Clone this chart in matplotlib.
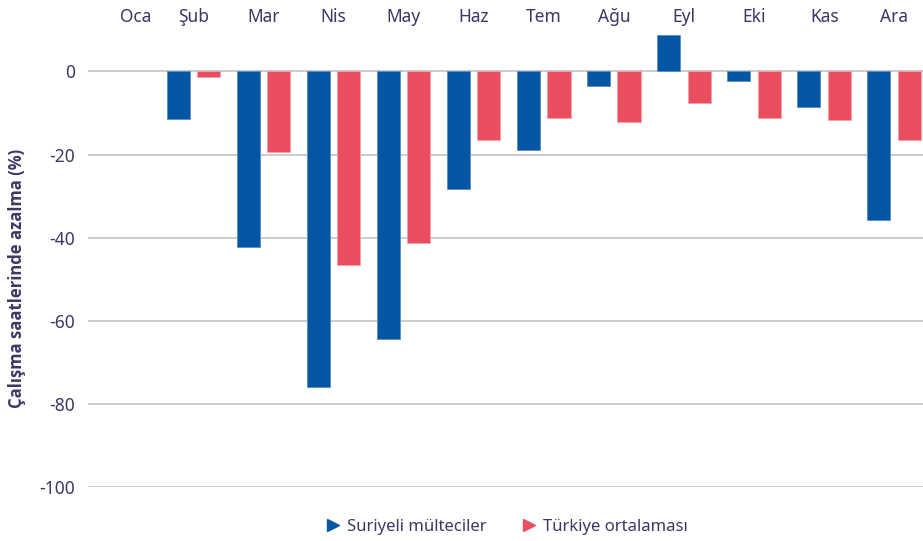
import numpy as np
import matplotlib.pyplot as plt
from matplotlib.lines import Line2D

plt.rcParams['font.family'] = ['Noto Sans', 'DejaVu Sans']
plt.rcParams['axes.unicode_minus'] = False

months = ['Oca', 'Şub', 'Mar', 'Nis', 'May', 'Haz', 'Tem', 'Ağu', 'Eyl', 'Eki', 'Kas', 'Ara']
suriyeli = [np.nan, -11.5, -42.2, -76.0, -64.4, -28.3, -19.0, -3.6, 8.8, -2.4, -8.5, -35.7]
turkiye = [np.nan, -1.4, -19.5, -46.6, -41.2, -16.5, -11.2, -12.2, -7.5, -11.2, -11.8, -16.5]
labels = ['Suriyeli mülteciler', 'Türkiye ortalaması']

blue = '#0455a4'
red = '#e94e61'
txt = '#3b3866'
grid = '#cccccc'

fig = plt.figure(figsize=(9.23, 5.41), dpi=100)
ax = fig.add_axes([0.0953, 0.0998, 0.9047, 0.845])

x = np.arange(len(months))
w = 0.33
ax.bar(x - 0.22, suriyeli, w, color=blue, edgecolor='#5b8cc8', linewidth=0.6, zorder=3)
ax.bar(x + 0.215, turkiye, w, color=red, edgecolor='#f2a0aa', linewidth=0.6, zorder=3)

ax.set_xlim(-0.507, 11.41)
ax.set_ylim(-100, 10)
ax.set_yticks([0, -20, -40, -60, -80, -100])
ax.yaxis.grid(True, color=grid, linewidth=1.4, zorder=0)
ax.set_axisbelow(True)

# month labels along the top; first one sits a bit right like the original
xt = x.astype(float)
xt[0] += 0.18
ax.xaxis.tick_top()
ax.set_xticks(xt)
ax.set_xticklabels(months)
ax.tick_params(axis='x', length=0, pad=3, labelsize=12.5, labelcolor=txt)
ax.tick_params(axis='y', length=0, pad=9, labelsize=12.5, labelcolor=txt)
for s in ax.spines.values():
    s.set_visible(False)

ax.set_ylabel('Çalışma saatlerinde azalma (%)', fontsize=12, fontweight='bold',
              family=['Open Sans', 'DejaVu Sans'], color=txt)
ax.yaxis.set_label_coords(-0.074, 0.457)

handles = [Line2D([], [], marker='>', color=blue, linestyle='none', markersize=9),
           Line2D([], [], marker='>', color=red, linestyle='none', markersize=9)]
ax.legend(handles, labels, loc='center', bbox_to_anchor=(0.5, -0.088), ncol=2,
          frameon=False, fontsize=12, labelcolor=txt, handletextpad=0.25,
          columnspacing=1.9, handlelength=1.2)

plt.savefig('out.png', dpi=100)
plt.close()
